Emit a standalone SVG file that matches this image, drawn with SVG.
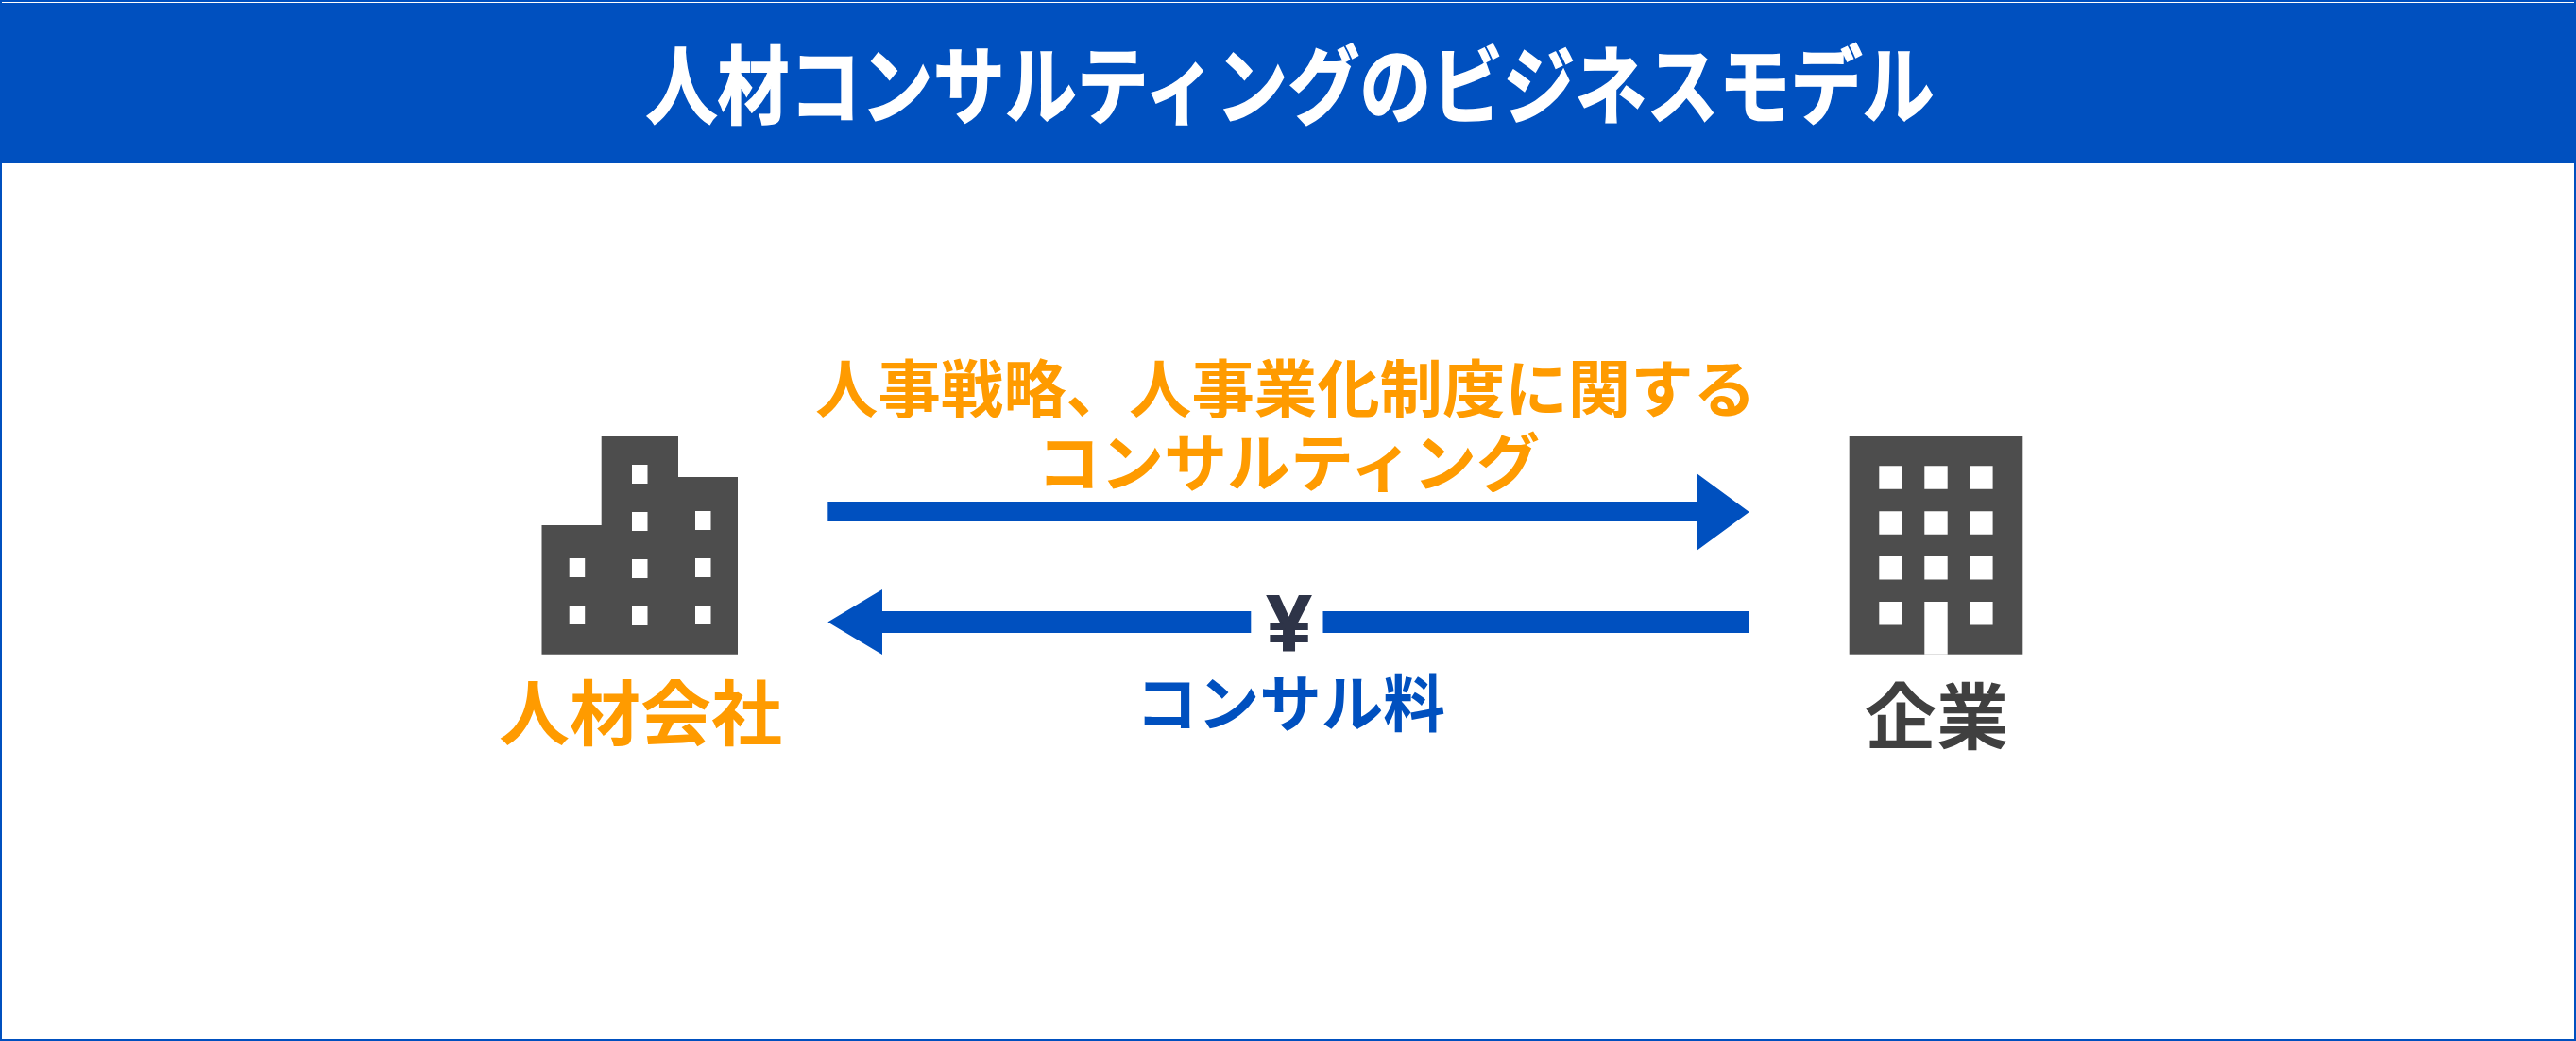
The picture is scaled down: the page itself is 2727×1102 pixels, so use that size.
<svg xmlns="http://www.w3.org/2000/svg" width="2727" height="1102" viewBox="0 0 2727 1102">
<style>
text{font-family:"Noto Sans CJK JP","Noto Sans",sans-serif;font-weight:700;text-anchor:middle}
.b{fill:#4d4d4d}.w{fill:#fff}.a{fill:#0050bf}.o{fill:#ff9b00}
</style>
<rect width="2727" height="1102" fill="#fff"/>
<g id="frame"><rect x="1" y="1" width="2725" height="1100" fill="none" stroke="#0050bf" stroke-width="2"/></g>
<g id="header"><rect x="0" y="3" width="2727" height="170" fill="#0050bf"/><text transform="translate(1365.500 124) scale(.845 1)" font-size="90" fill="#fff" stroke="#fff" stroke-width="1.500">人材コンサルティングのビジネスモデル</text></g>
<g id="firm">
<path class="b" d="M573.500 692.700V556H636.700V462H718V505H781V692.700Z"/>
<path class="w" d="M669 492h16.500v20H669ZM669 542h16.500v20H669ZM669 592h16.500v20H669ZM669 642h16.500v20H669ZM602.700 591h16.500v20h-16.500ZM602.700 641h16.500v20h-16.500ZM736 541h16.500v20H736ZM736 591h16.500v20H736ZM736 641h16.500v20H736Z"/>
<text class="o" x="678" y="783" font-size="75">人材会社</text>
</g>
<g id="company">
<rect class="b" x="1957.700" y="462" width="183.600" height="230.700"/>
<path class="w" d="M1989.300 493.300h24.400v24.400h-24.400ZM2037.300 493.300h24.400v24.400h-24.400ZM2085.200 493.300h24.400v24.400h-24.400ZM1989.300 541.300h24.400v24.400h-24.400ZM2037.300 541.300h24.400v24.400h-24.400ZM2085.200 541.300h24.400v24.400h-24.400ZM1989.300 589h24.400v24.400h-24.400ZM2037.300 589h24.400v24.400h-24.400ZM2085.200 589h24.400v24.400h-24.400ZM1989.300 637h24.400v24.400h-24.400ZM2085.200 637h24.400v24.400h-24.400ZM2037.300 637h24.400v55.700h-24.400Z"/>
<text x="2050" y="787" font-size="76" fill="#404040">企業</text>
</g>
<g id="connectors">
<path class="a" d="M876.300 531H1796V501L1851.800 542 1796 583V552H876.300Z"/>
<path class="a" d="M876.300 658.500L934 624V647H1324.300V670H934V693ZM1400.500 647H1851.800V670H1400.500Z"/>
</g>
<g id="labels">
<text class="o" x="1361" y="436" font-size="66.400">人事戦略、人事業化制度に関する</text>
<text class="o" x="1364" y="515" font-size="67">コンサルティング</text>
<text class="a" x="1366" y="769" font-size="65.500">コンサル料</text>
<text x="1364.700" y="689" font-size="83" fill="#2e3448" stroke="#2e3448" stroke-width="2" style="font-family:'Liberation Sans',sans-serif">¥</text>
</g>
</svg>
